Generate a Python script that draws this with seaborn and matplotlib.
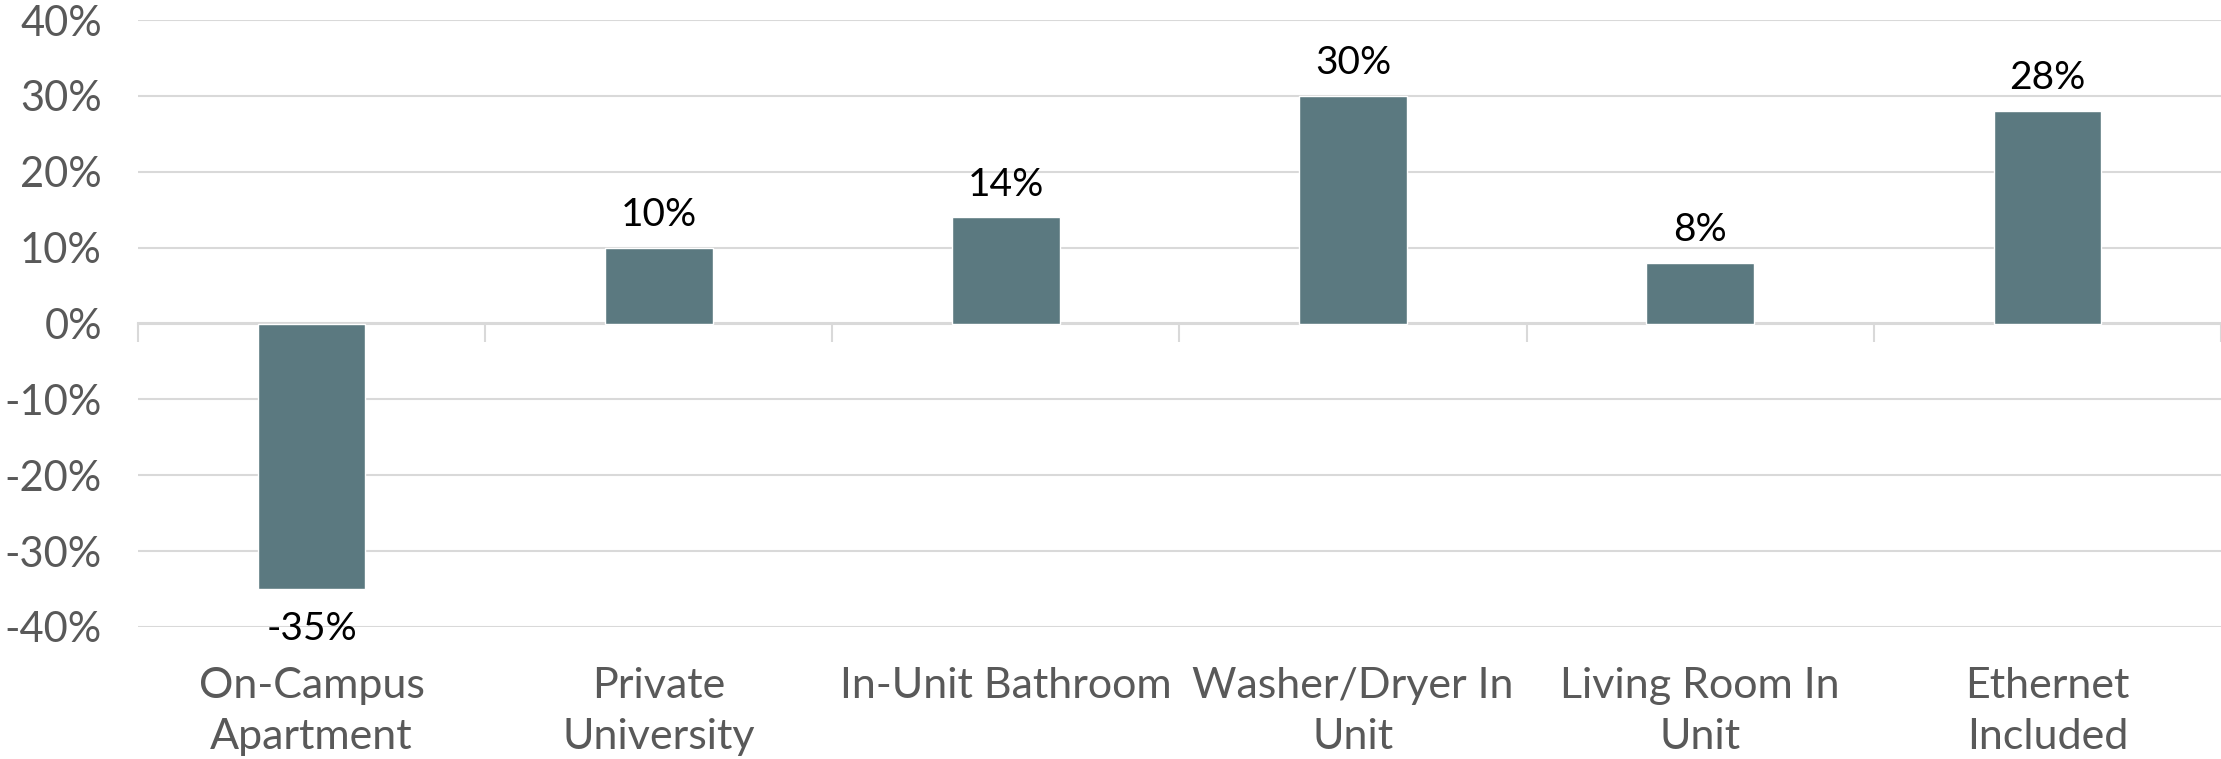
import matplotlib
matplotlib.use("Agg")
import matplotlib.pyplot as plt
import seaborn as sns
from matplotlib.ticker import FuncFormatter

categories = ["On-Campus\nApartment", "Private\nUniversity", "In-Unit Bathroom",
              "Washer/Dryer In\nUnit", "Living Room In\nUnit", "Ethernet\nIncluded"]
values = [-35, 10, 14, 30, 8, 28]

bar_color = "#5B7980"
grid_color = "#D9D9D9"
text_grey = "#595959"

sns.set_theme(style="white")
plt.rcParams['font.family'] = ['Lato', 'DejaVu Sans']

fig = plt.figure(figsize=(22.21, 7.59), dpi=100)
ax = fig.add_axes([138 / 2221, 1 - 627 / 759, 1 - 138 / 2221, (627 - 20) / 759])

sns.barplot(x=categories, y=values, color=bar_color, width=0.31, ax=ax,
            saturation=1)

ax.set_ylim(-40, 40)
ax.set_xlim(-0.5, len(categories) - 0.5)
ax.set_yticks(range(-40, 41, 10))
ax.yaxis.set_major_formatter(FuncFormatter(lambda v, p: f"{int(v)}%"))
ax.grid(axis="y", color=grid_color, linewidth=1.5)
ax.set_axisbelow(True)
for s in ax.spines.values():
    s.set_visible(False)

ax.set_xticks(range(len(categories)))
ax.set_xticklabels(categories, linespacing=1.4)
ax.tick_params(axis="y", length=0, pad=26, labelsize=30, labelcolor=text_grey)
ax.tick_params(axis="x", length=0, pad=29, labelsize=31, labelcolor=text_grey)
ax.set_xlabel("")
ax.set_ylabel("")

# zero line with category separators
sec = ax.secondary_xaxis(0.5)
sec.set_xticks([i - 0.5 for i in range(len(categories) + 1)])
sec.set_xticklabels([])
sec.tick_params(axis="x", direction="in", length=14, width=1.5, color=grid_color)
for s in sec.spines.values():
    s.set_color(grid_color)
    s.set_linewidth(1.5)

for i, v in enumerate(values):
    if v >= 0:
        ax.text(i, v + 4.3, f"{v}%", ha="center", va="center", fontsize=28, color="black")
    else:
        ax.text(i, v - 5.2, f"{v}%", ha="center", va="center", fontsize=28, color="black")

fig.savefig("out.png", dpi=100)
